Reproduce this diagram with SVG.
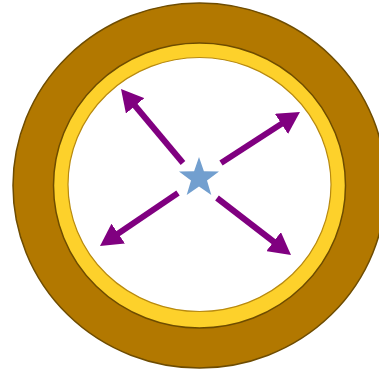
<svg xmlns="http://www.w3.org/2000/svg" width="379" height="372" viewBox="0 0 379 372">
  <style>
    .arrow { stroke: #800080; stroke-width: 6; fill: none; marker-end: url(#head); }
  </style>
  <defs>
    <marker id="head" markerUnits="userSpaceOnUse" viewBox="0 0 22 24" markerWidth="22" markerHeight="24" refX="8" refY="12" orient="auto">
      <path d="M0,0 L22,12 L0,24 Z" fill="#800080"/>
    </marker>
  </defs>
  <rect width="379" height="372" fill="#ffffff"/>
  <g id="ring">
    <ellipse cx="199.5" cy="185.5" rx="186.5" ry="182.5" fill="#b27800" stroke="#6e4c00" stroke-width="1.5"/>
    <ellipse cx="199.5" cy="185.5" rx="146" ry="142.5" fill="#fdd12b" stroke="#6e4c00" stroke-width="1.5"/>
    <ellipse cx="199.5" cy="184.5" rx="131.5" ry="127" fill="#ffffff" stroke="#b88a10" stroke-width="1.2"/>
  </g>
  <g id="star">
    <polygon fill="#729fcf" points="199,157 203.9,171.2 219,171.5 207,180.6 211.3,195 199,186.5 186.7,195 191,180.6 179,171.5 194.1,171.2"/>
  </g>
  <g id="connectors">
    <line class="arrow" x1="183" y1="163" x2="130" y2="99.7"/>
    <line class="arrow" x1="221" y1="163" x2="288.2" y2="119.6"/>
    <line class="arrow" x1="178" y1="193" x2="111.6" y2="238.1"/>
    <line class="arrow" x1="217" y1="198" x2="279.9" y2="246.5"/>
  </g>
</svg>
